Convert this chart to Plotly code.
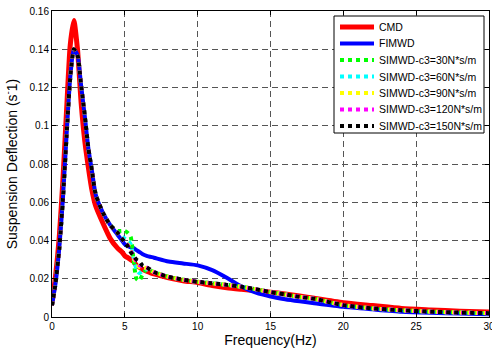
import plotly.graph_objects as go

freq = [0, 0.25, 0.5, 0.75, 1.0, 1.25, 1.5, 1.75, 2.0, 2.25, 2.5, 2.75, 3.0, 3.5, 4.0, 4.5,
        4.8, 5.0, 5.2, 5.4, 5.6, 5.8, 6.0, 6.2, 6.5, 7, 8, 9, 10, 11, 12, 13, 14, 15, 16,
        17, 18, 20, 22, 24, 26, 28, 30]

cmd = [0.007, 0.022, 0.042, 0.072, 0.108, 0.142, 0.155, 0.140, 0.112, 0.092, 0.078, 0.066,
       0.058, 0.049, 0.041, 0.036, 0.034, 0.032, 0.031, 0.030, 0.029, 0.027, 0.026, 0.025,
       0.024, 0.0225, 0.0205, 0.019, 0.018, 0.0165, 0.0153, 0.0145, 0.0138, 0.013, 0.012,
       0.011, 0.0098, 0.0075, 0.006, 0.0045, 0.0037, 0.003, 0.0026]

fimwd = [0.006, 0.018, 0.036, 0.062, 0.095, 0.125, 0.140, 0.137, 0.121, 0.105, 0.088, 0.076,
         0.064, 0.0545, 0.048, 0.043, 0.040, 0.038, 0.037, 0.0365, 0.036, 0.035, 0.034, 0.033,
         0.032, 0.031, 0.029, 0.028, 0.027, 0.0245, 0.0205, 0.016, 0.0127, 0.0107, 0.0093,
         0.0082, 0.0072, 0.0053, 0.004, 0.0028, 0.0022, 0.0018, 0.0015]

c150 = [0.006, 0.018, 0.036, 0.062, 0.095, 0.125, 0.140, 0.137, 0.121, 0.105, 0.088, 0.076,
        0.064, 0.0545, 0.048, 0.044, 0.041, 0.039, 0.037, 0.034, 0.032, 0.030, 0.029, 0.027,
        0.026, 0.0235, 0.021, 0.0195, 0.0184, 0.0176, 0.0168, 0.0158, 0.0145, 0.013, 0.0118,
        0.0105, 0.0095, 0.0062, 0.0045, 0.0035, 0.0028, 0.0023, 0.002]

c30 = c150[:15] + [0.045, 0.045, 0.045, 0.044, 0.042, 0.030, 0.020, 0.019, 0.022, 0.025] + c150[25:]
c60 = c150[:15] + [0.044, 0.042, 0.041, 0.040, 0.038, 0.031, 0.025, 0.023, 0.024, 0.025] + c150[25:]
c90 = c150[:15] + [0.044, 0.041, 0.039, 0.038, 0.035, 0.031, 0.028, 0.026, 0.026, 0.0255] + c150[25:]
c120 = c150[:15] + [0.044, 0.041, 0.039, 0.0375, 0.0345, 0.032, 0.029, 0.027, 0.0265, 0.0258] + c150[25:]

names = ["CMD", "FIMWD", "SIMWD-c3=30N*s/m", "SIMWD-c3=60N*s/m", "SIMWD-c3=90N*s/m",
         "SIMWD-c3=120N*s/m", "SIMWD-c3=150N*s/m"]
series = [cmd, fimwd, c30, c60, c90, c120, c150]
colors = ["#ff0000", "#0000ff", "#00ff00", "#00ffff", "#ffff00", "#ff00ff", "#000000"]
widths = [5, 4, 4, 4, 4, 4, 4]
dashes = ["solid", "solid", "dot", "dot", "dot", "dot", "dot"]

xticks = [0, 5, 10, 15, 20, 25, 30]
yticks = [0, 0.02, 0.04, 0.06, 0.08, 0.1, 0.12, 0.14, 0.16]
ytext = ["0", "0.02", "0.04", "0.06", "0.08", "0.1", "0.12", "0.14", "0.16"]

fig = go.Figure()
for n, y, c, w, d in zip(names, series, colors, widths, dashes):
    fig.add_trace(go.Scatter(x=freq, y=y, name=n, mode="lines",
                             line=dict(color=c, width=w, dash=d, shape="spline", smoothing=0.6),
                             showlegend=False))

W, H = 492, 360
ml, mr, mt, mb = 52, 3, 11, 43
pw, ph = W - ml - mr, H - mt - mb

def px(x):
    return (x - ml) / pw

def py(y):
    return (H - mb - y) / ph

shapes = [dict(type="rect", xref="paper", yref="paper", x0=px(334), x1=px(484), y0=py(133), y1=py(16),
               line=dict(color="black", width=1), fillcolor="white", layer="above")]
annotations = []
for i, (n, c, w, d) in enumerate(zip(names, colors, widths, dashes)):
    yc = 27 + i * 16.5
    shapes.append(dict(type="line", xref="paper", yref="paper", x0=px(340), x1=px(374),
                       y0=py(yc), y1=py(yc), line=dict(color=c, width=w, dash=d), layer="above"))
    annotations.append(dict(xref="paper", yref="paper", x=px(377), y=py(yc), text=n, showarrow=False,
                            xanchor="left", yanchor="middle",
                            font=dict(family="Arial, Liberation Sans", size=10.5, color="black")))

axis_common = dict(showline=True, linecolor="black", linewidth=1, mirror="ticks", ticks="inside",
                   ticklen=4, tickcolor="black", showgrid=True, gridcolor="#555555", gridwidth=1,
                   griddash="6px,4px", zeroline=False, ticklabeloverflow="allow", automargin=False,
                   tickfont=dict(family="Arial, Liberation Sans", size=10, color="black"))

fig.update_layout(
    width=W, height=H, margin=dict(l=ml, r=mr, t=mt, b=mb, autoexpand=False),
    paper_bgcolor="white", plot_bgcolor="white",
    xaxis=dict(range=[0, 30], tickvals=xticks, ticktext=[str(v) for v in xticks],
               title=dict(text="Frequency(Hz)", font=dict(family="Arial, Liberation Sans", size=14, color="black"),
                          standoff=2), **axis_common),
    yaxis=dict(range=[0, 0.16], tickvals=yticks, ticktext=ytext,
               title=dict(text="Suspension Deflection (s<sup>-</sup>1)",
                          font=dict(family="Arial, Liberation Sans", size=14, color="black"), standoff=8),
               **axis_common),
    shapes=shapes, annotations=annotations, showlegend=False,
)
fig.write_html("out.html")
